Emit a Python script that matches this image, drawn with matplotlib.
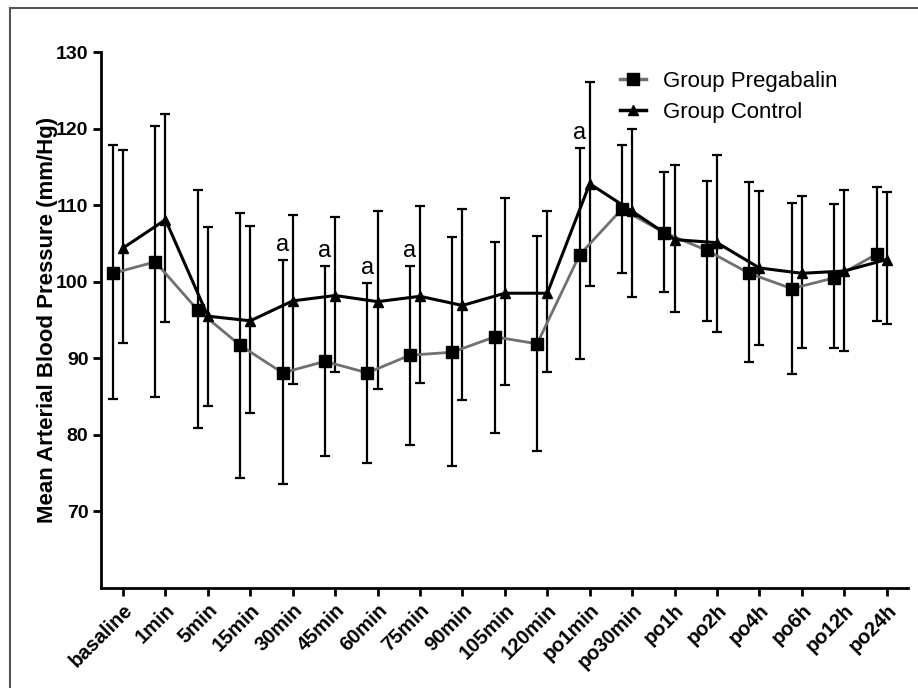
import numpy as np
import matplotlib
matplotlib.use("Agg")
import matplotlib.pyplot as plt
from matplotlib.lines import Line2D

plt.rcParams['font.family'] = ['Liberation Sans', 'DejaVu Sans']

########## data ##########
timepoints = ["basaline", "1min", "5min", "15min", "30min", "45min", "60min", "75min",
              "90min", "105min", "120min", "po1min", "po30min", "po1h", "po2h", "po4h",
              "po6h", "po12h", "po24h"]

preg_mean = [101.1, 102.6, 96.3, 91.7, 88.1, 89.6, 88.1, 90.4, 90.8, 92.8, 91.9,
             103.5, 109.5, 106.4, 104.1, 101.1, 99.1, 100.5, 103.6]
preg_top = [117.8, 120.4, 112.0, 109.0, 102.8, 102.0, 99.8, 102.0, 105.9, 105.2, 106.0,
            117.4, 117.9, 114.3, 113.2, 113.0, 110.3, 110.1, 112.4]
preg_bot = [84.7, 84.9, 80.9, 74.4, 73.6, 77.3, 76.3, 78.7, 76.0, 80.3, 77.9,
            89.9, 101.2, 98.7, 94.9, 89.5, 87.9, 91.3, 94.9]

ctrl_mean = [104.4, 108.1, 95.5, 94.9, 97.5, 98.2, 97.4, 98.1, 96.9, 98.5, 98.5,
             112.8, 109.2, 105.5, 105.1, 101.8, 101.1, 101.4, 102.9]
ctrl_top = [117.2, 121.9, 107.2, 107.3, 108.7, 108.5, 109.2, 109.9, 109.5, 111.0, 109.3,
            126.1, 120.0, 115.3, 116.6, 111.9, 111.2, 112.0, 111.7]
ctrl_bot = [92.0, 94.8, 83.8, 82.8, 86.7, 88.2, 86.0, 86.8, 84.6, 86.5, 88.2,
            99.5, 98.0, 96.0, 93.5, 91.7, 91.4, 90.9, 94.5]

sig_idx = [4, 5, 6, 7, 11]  # points marked with "a"

########## plot ##########
x = np.arange(len(timepoints))
xp = x - 0.24  # pregabalin slightly shifted left

preg_mean = np.array(preg_mean)
ctrl_mean = np.array(ctrl_mean)
preg_err = [preg_mean - np.array(preg_bot), np.array(preg_top) - preg_mean]
ctrl_err = [ctrl_mean - np.array(ctrl_bot), np.array(ctrl_top) - ctrl_mean]

fig = plt.figure(figsize=(9.18, 6.88), dpi=100)
ax = fig.add_axes([0.110, 0.1453, 0.879, 0.7791])

ax.errorbar(xp, preg_mean, yerr=preg_err, fmt='none', ecolor='black', elinewidth=1.6,
            capsize=3.8, capthick=1.6, zorder=2)
ax.errorbar(x, ctrl_mean, yerr=ctrl_err, fmt='none', ecolor='black', elinewidth=1.6,
            capsize=3.8, capthick=1.6, zorder=2)
ax.plot(xp, preg_mean, color='#707070', lw=2.0, zorder=3)
ax.plot(xp, preg_mean, ls='none', marker='s', ms=8, color='black', zorder=5)
ax.plot(x, ctrl_mean, color='black', lw=2.2, marker='^', ms=6.5, zorder=4)

for i in sig_idx:
    ax.text(xp[i], preg_top[i] + 0.6, "a", ha='center', va='bottom', fontsize=17)

ax.set_ylim(60, 130)
ax.set_xlim(-0.52, 18.5)
ax.set_yticks([70, 80, 90, 100, 110, 120, 130])
ax.set_xticks(x)
ax.set_xticklabels(timepoints, rotation=45, ha='right', rotation_mode='anchor',
                   fontweight='bold', fontsize=14.5)
for lab in ax.get_yticklabels():
    lab.set_fontweight('bold')
    lab.set_fontsize(14)
ax.set_ylabel("Mean Arterial Blood Pressure (mm/Hg)", fontsize=16, fontweight='bold',
              labelpad=-1.5)

for s in ['top', 'right']:
    ax.spines[s].set_visible(False)
for s in ['left', 'bottom']:
    ax.spines[s].set_linewidth(2.0)
ax.tick_params(direction='out', width=2.0, length=6, pad=3)

h1 = Line2D([], [], color='#707070', lw=2.5, marker='s', ms=8, mfc='black', mec='black')
h2 = Line2D([], [], color='black', lw=2.5, marker='^', ms=6.5)
ax.legend([h1, h2], ["Group Pregabalin", "Group Control"], loc='upper left',
          bbox_to_anchor=(0.619, 1.002), frameon=False, fontsize=16, handlelength=1.15,
          handletextpad=0.75, labelspacing=0.45)

# frame lines of the original picture (left and top)
fig.add_artist(Line2D([9.5/918, 9.5/918], [0, 1 - 7.5/688], color='#555555', lw=1.5))
fig.add_artist(Line2D([9.5/918, 1], [1 - 7.5/688, 1 - 7.5/688], color='#555555', lw=1.5))

plt.savefig("out.png", dpi=100)
plt.close()
